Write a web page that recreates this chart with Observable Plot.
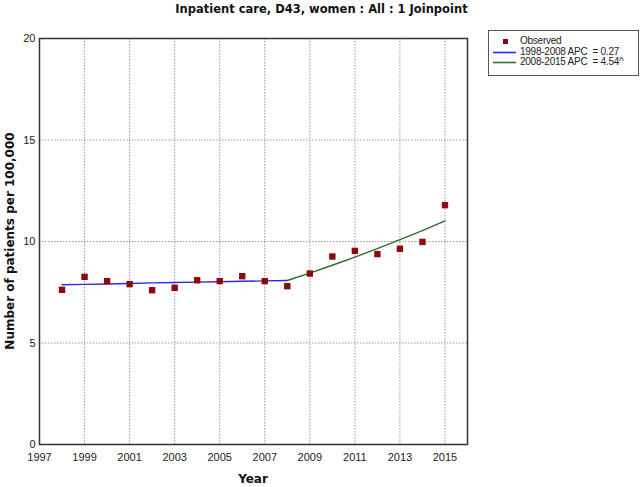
<!DOCTYPE html>
<html>
<head>
<meta charset="utf-8">
<script src="https://cdn.jsdelivr.net/npm/d3@7"></script>
<script src="https://cdn.jsdelivr.net/npm/@observablehq/plot@0.6"></script>
<style>
  html, body { margin: 0; padding: 0; background: #fff; }
  #wrap { position: relative; width: 643px; height: 487px; overflow: hidden; }
  #title { position: absolute; left: 0; width: 643px; top: 2px; text-align: center;
    font: bold 11.5px "DejaVu Sans", Verdana, sans-serif; color: #111; }
  #legend { position: absolute; left: 488px; top: 30px; width: 151px; height: 46px;
    box-sizing: border-box; border: 1px solid #555; background: #fff;
    font: 10px "Liberation Sans", Arial, sans-serif; letter-spacing: -0.25px; color: #222; }
  .row { position: absolute; left: 0; height: 11px; line-height: 11px; }
  .row svg { position: absolute; left: 2px; top: 0; }
  .row span { position: absolute; left: 31px; top: -1px; white-space: pre; }
  #chart { position: absolute; left: 0; top: 0; }
</style>
</head>
<body>
<div id="wrap">
  <div id="chart"></div>
  <div id="title">Inpatient care, D43, women : All : 1 Joinpoint</div>
  <div id="legend"></div>
</div>
<script>
// Observed values
const years = [1998,1999,2000,2001,2002,2003,2004,2005,2006,2007,2008,2009,2010,2011,2012,2013,2014,2015];
const observed = [7.62,8.26,8.05,7.90,7.60,7.72,8.09,8.05,8.29,8.05,7.80,8.42,9.26,9.54,9.38,9.64,9.98,11.79];

// Fitted segment 1 (1998-2008)
const seg1Years = [1998,1999,2000,2001,2002,2003,2004,2005,2006,2007,2008];
const seg1Fit = [7.87,7.89,7.91,7.93,7.96,7.98,8.00,8.02,8.04,8.06,8.08];
// Fitted segment 2 (2008-2015)
const seg2Years = [2008,2009,2010,2011,2012,2013,2014,2015];
const seg2Fit = [8.08,8.44,8.83,9.23,9.65,10.09,10.54,11.02];

const xTicks = [1997,1999,2001,2003,2005,2007,2009,2011,2013,2015];
const yTicks = [0,5,10,15,20];
const xGrid = [1999,2001,2003,2005,2007,2009,2011,2013,2015];
const yGrid = [5,10,15];

const legendItems = [
  {label: "Observed", kind: "dot", color: "#8b0a0a"},
  {label: "1998-2008 APC  = 0.27", kind: "line", color: "#2b2bd9"},
  {label: "2008-2015 APC  = 4.54^", kind: "line", color: "#2f6b2f"}
];

const obsData = years.map((y, i) => ({year: y, value: observed[i]}));
const s1 = seg1Years.map((y, i) => ({year: y, value: seg1Fit[i]}));
const s2 = seg2Years.map((y, i) => ({year: y, value: seg2Fit[i]}));

const plot = Plot.plot({
  width: 643,
  height: 487,
  marginLeft: 39,
  marginRight: 176,
  marginTop: 38,
  marginBottom: 43,
  style: {fontFamily: "'Liberation Sans', Arial, sans-serif", fontSize: "11px", color: "#222", background: "#fff"},
  x: {domain: [1997, 2016], ticks: xTicks, tickFormat: "d", tickSize: 0, tickPadding: 9, label: null},
  y: {domain: [0, 20], ticks: yTicks, tickSize: 0, tickPadding: 4, label: null},
  marks: [
    Plot.ruleX(xGrid, {stroke: "#999", strokeDasharray: "1.5,1.5", strokeWidth: 1}),
    Plot.ruleY(yGrid, {stroke: "#999", strokeDasharray: "1.5,1.5", strokeWidth: 1}),
    Plot.line(s1, {x: "year", y: "value", stroke: legendItems[1].color, strokeWidth: 1.4}),
    Plot.line(s2, {x: "year", y: "value", stroke: legendItems[2].color, strokeWidth: 1.4}),
    Plot.dot(obsData, {x: "year", y: "value", symbol: "square", r: 3.6, fill: legendItems[0].color, stroke: "none"}),
    Plot.frame({stroke: "#333", strokeWidth: 1.5}),
    Plot.axisX({ticks: xTicks, tickFormat: "d", tickSize: 0, tickPadding: 9, label: null}),
    Plot.axisY({ticks: yTicks, tickSize: 0, tickPadding: 4, label: null})
  ]
});
document.getElementById("chart").appendChild(plot);

// Axis titles
const svg = d3.select(plot);
svg.append("text")
  .attr("x", 253).attr("y", 483)
  .attr("text-anchor", "middle")
  .style("font", "bold 12px 'DejaVu Sans', Verdana, sans-serif")
  .style("fill", "#111")
  .text("Year");
svg.append("text")
  .attr("transform", "translate(14,241) rotate(-90)")
  .attr("text-anchor", "middle")
  .style("font", "bold 12px 'DejaVu Sans', Verdana, sans-serif")
  .style("fill", "#111")
  .text("Number of patients per 100,000");

// Legend
const leg = document.getElementById("legend");
legendItems.forEach((it, i) => {
  const row = document.createElement("div");
  row.className = "row";
  row.style.top = (5 + i * 10.5) + "px";
  const sw = d3.create("svg").attr("width", 26).attr("height", 11);
  if (it.kind === "dot") {
    sw.append("rect").attr("x", 12).attr("y", 3).attr("width", 5).attr("height", 5).attr("fill", it.color);
  } else {
    sw.append("line").attr("x1", 2).attr("x2", 25).attr("y1", 5.5).attr("y2", 5.5)
      .attr("stroke", it.color).attr("stroke-width", 1.6);
  }
  row.appendChild(sw.node());
  const sp = document.createElement("span");
  sp.textContent = it.label;
  row.appendChild(sp);
  leg.appendChild(row);
});
</script>
</body>
</html>
